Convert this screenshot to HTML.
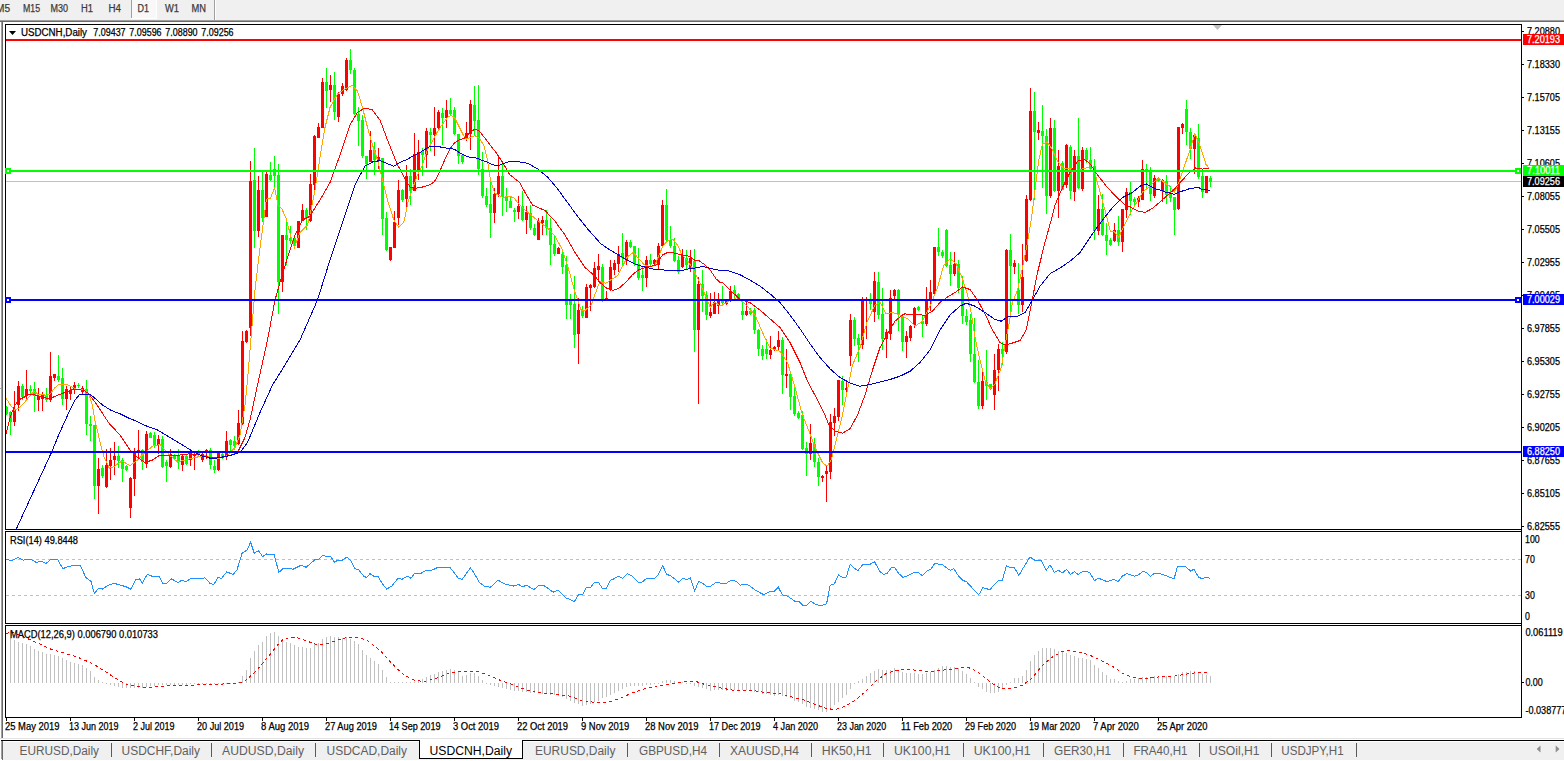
<!DOCTYPE html>
<html lang="en"><head><meta charset="utf-8"><title>USDCNH,Daily</title>
<style>html,body{margin:0;padding:0;background:#fff;overflow:hidden}body{width:1564px;height:761px;font-family:"Liberation Sans",sans-serif}svg text{font-family:"Liberation Sans",sans-serif}</style></head>
<body>
<svg width="1564" height="761" viewBox="0 0 1564 761" font-family="Liberation Sans, sans-serif" shape-rendering="crispEdges" style="display:block">
<rect x="0" y="0" width="1564" height="761" fill="#fff"/>
<rect x="0" y="0" width="1564" height="20" fill="#f0f0f0"/>
<rect x="0" y="20" width="1564" height="1" fill="#a0a0a0"/>
<rect x="0" y="21" width="1564" height="1" fill="#696969"/>
<rect x="132" y="0" width="24" height="18" fill="#f8f8f8"/>
<rect x="131" y="18" width="26" height="1" fill="#fff"/>
<rect x="156" y="0" width="1" height="18" fill="#fff"/>
<rect x="131" y="0" width="1" height="18" fill="#a0a0a0"/>
<rect x="214" y="0" width="1" height="20" fill="#a0a0a0"/>
<rect x="215" y="0" width="1" height="20" fill="#fff"/>
<text x="-4" y="12" font-size="10" fill="#3c3c3c" stroke="#3c3c3c" stroke-width="0.25" textLength="14" lengthAdjust="spacingAndGlyphs">M5</text>
<text x="23" y="12" font-size="10" fill="#3c3c3c" stroke="#3c3c3c" stroke-width="0.25" textLength="17" lengthAdjust="spacingAndGlyphs">M15</text>
<text x="50.5" y="12" font-size="10" fill="#3c3c3c" stroke="#3c3c3c" stroke-width="0.25" textLength="17.5" lengthAdjust="spacingAndGlyphs">M30</text>
<text x="81" y="12" font-size="10" fill="#3c3c3c" stroke="#3c3c3c" stroke-width="0.25" textLength="12" lengthAdjust="spacingAndGlyphs">H1</text>
<text x="108.5" y="12" font-size="10" fill="#3c3c3c" stroke="#3c3c3c" stroke-width="0.25" textLength="12.5" lengthAdjust="spacingAndGlyphs">H4</text>
<text x="137.5" y="12" font-size="10" fill="#3c3c3c" stroke="#3c3c3c" stroke-width="0.25" textLength="11.5" lengthAdjust="spacingAndGlyphs">D1</text>
<text x="165" y="12" font-size="10" fill="#3c3c3c" stroke="#3c3c3c" stroke-width="0.25" textLength="14" lengthAdjust="spacingAndGlyphs">W1</text>
<text x="191.5" y="12" font-size="10" fill="#3c3c3c" stroke="#3c3c3c" stroke-width="0.25" textLength="14.5" lengthAdjust="spacingAndGlyphs">MN</text>
<rect x="0" y="388" width="1" height="1" fill="#a0a0a0"/>
<rect x="1" y="22" width="1" height="717" fill="#a0a0a0"/>
<rect x="2" y="22" width="1" height="717" fill="#696969"/>
<rect x="5" y="24" width="1517" height="1" fill="#000"/>
<rect x="5" y="24" width="1" height="506" fill="#000"/>
<rect x="5" y="529" width="1517" height="1" fill="#000"/>
<rect x="5" y="531" width="1517" height="1" fill="#000"/>
<rect x="5" y="531" width="1" height="93" fill="#000"/>
<rect x="5" y="623" width="1517" height="1" fill="#000"/>
<rect x="5" y="625" width="1517" height="1" fill="#000"/>
<rect x="5" y="625" width="1" height="93" fill="#000"/>
<rect x="5" y="717" width="1517" height="1" fill="#000"/>
<rect x="1521" y="24" width="1" height="694" fill="#000"/>
<rect x="1522" y="31" width="2" height="1" fill="#000"/>
<text x="1527" y="35" font-size="10" fill="#000" stroke="#000" stroke-width="0.25" textLength="33" lengthAdjust="spacingAndGlyphs">7.20880</text>
<rect x="1522" y="64" width="2" height="1" fill="#000"/>
<text x="1527" y="68" font-size="10" fill="#000" stroke="#000" stroke-width="0.25" textLength="33" lengthAdjust="spacingAndGlyphs">7.18330</text>
<rect x="1522" y="97" width="2" height="1" fill="#000"/>
<text x="1527" y="101" font-size="10" fill="#000" stroke="#000" stroke-width="0.25" textLength="33" lengthAdjust="spacingAndGlyphs">7.15705</text>
<rect x="1522" y="130" width="2" height="1" fill="#000"/>
<text x="1527" y="134" font-size="10" fill="#000" stroke="#000" stroke-width="0.25" textLength="33" lengthAdjust="spacingAndGlyphs">7.13155</text>
<rect x="1522" y="163" width="2" height="1" fill="#000"/>
<text x="1527" y="167" font-size="10" fill="#000" stroke="#000" stroke-width="0.25" textLength="33" lengthAdjust="spacingAndGlyphs">7.10605</text>
<rect x="1522" y="196" width="2" height="1" fill="#000"/>
<text x="1527" y="200" font-size="10" fill="#000" stroke="#000" stroke-width="0.25" textLength="33" lengthAdjust="spacingAndGlyphs">7.08055</text>
<rect x="1522" y="229" width="2" height="1" fill="#000"/>
<text x="1527" y="233" font-size="10" fill="#000" stroke="#000" stroke-width="0.25" textLength="33" lengthAdjust="spacingAndGlyphs">7.05505</text>
<rect x="1522" y="262" width="2" height="1" fill="#000"/>
<text x="1527" y="266" font-size="10" fill="#000" stroke="#000" stroke-width="0.25" textLength="33" lengthAdjust="spacingAndGlyphs">7.02955</text>
<rect x="1522" y="295" width="2" height="1" fill="#000"/>
<text x="1527" y="299" font-size="10" fill="#000" stroke="#000" stroke-width="0.25" textLength="33" lengthAdjust="spacingAndGlyphs">7.00405</text>
<rect x="1522" y="328" width="2" height="1" fill="#000"/>
<text x="1527" y="332" font-size="10" fill="#000" stroke="#000" stroke-width="0.25" textLength="33" lengthAdjust="spacingAndGlyphs">6.97855</text>
<rect x="1522" y="361" width="2" height="1" fill="#000"/>
<text x="1527" y="365" font-size="10" fill="#000" stroke="#000" stroke-width="0.25" textLength="33" lengthAdjust="spacingAndGlyphs">6.95305</text>
<rect x="1522" y="394" width="2" height="1" fill="#000"/>
<text x="1527" y="398" font-size="10" fill="#000" stroke="#000" stroke-width="0.25" textLength="33" lengthAdjust="spacingAndGlyphs">6.92755</text>
<rect x="1522" y="427" width="2" height="1" fill="#000"/>
<text x="1527" y="431" font-size="10" fill="#000" stroke="#000" stroke-width="0.25" textLength="33" lengthAdjust="spacingAndGlyphs">6.90205</text>
<rect x="1522" y="460" width="2" height="1" fill="#000"/>
<text x="1527" y="464" font-size="10" fill="#000" stroke="#000" stroke-width="0.25" textLength="33" lengthAdjust="spacingAndGlyphs">6.87655</text>
<rect x="1522" y="493" width="2" height="1" fill="#000"/>
<text x="1527" y="497" font-size="10" fill="#000" stroke="#000" stroke-width="0.25" textLength="33" lengthAdjust="spacingAndGlyphs">6.85105</text>
<rect x="1522" y="526" width="2" height="1" fill="#000"/>
<text x="1527" y="530" font-size="10" fill="#000" stroke="#000" stroke-width="0.25" textLength="33" lengthAdjust="spacingAndGlyphs">6.82555</text>
<rect x="6" y="181" width="1515" height="1" fill="#c0c0c0"/>
<path d="M14 391h1v35h-1zM13 410h3v12h-3zM18 381h1v30h-1zM17 386h3v19h-3zM26 370h1v29h-1zM25 389h3v7h-3zM38 388h1v23h-1zM37 396h3v4h-3zM42 392h1v19h-1zM41 394h3v5h-3zM50 352h1v50h-1zM49 376h3v24h-3zM54 374h1v7h-1zM53 374h3v4h-3zM66 386h1v24h-1zM65 389h3v10h-3zM70 386h1v14h-1zM69 390h3v4h-3zM74 382h1v12h-1zM73 385h3v5h-3zM82 386h1v8h-1zM81 388h3v4h-3zM98 458h1v56h-1zM97 469h3v17h-3zM106 449h1v39h-1zM105 465h3v22h-3zM110 448h1v32h-1zM109 460h3v6h-3zM114 442h1v33h-1zM113 456h3v4h-3zM130 477h1v41h-1zM129 478h3v30h-3zM134 448h1v48h-1zM133 451h3v28h-3zM138 430h1v28h-1zM137 450h3v2h-3zM146 431h1v37h-1zM145 434h3v30h-3zM158 435h1v19h-1zM157 439h3v6h-3zM170 449h1v19h-1zM169 454h3v13h-3zM182 454h1v17h-1zM181 456h3v9h-3zM190 449h1v17h-1zM189 451h3v9h-3zM194 452h1v18h-1zM193 454h3v2h-3zM202 452h1v10h-1zM201 454h3v6h-3zM206 449h1v10h-1zM205 450h3v2h-3zM218 452h1v19h-1zM217 453h3v17h-3zM226 431h1v29h-1zM225 441h3v15h-3zM238 410h1v35h-1zM237 423h3v21h-3zM242 331h1v94h-1zM241 341h3v83h-3zM246 330h1v13h-1zM245 331h3v11h-3zM250 161h1v175h-1zM249 181h3v147h-3zM258 176h1v61h-1zM257 190h3v41h-3zM266 172h1v45h-1zM265 174h3v43h-3zM282 235h1v57h-1zM281 235h3v47h-3zM298 221h1v27h-1zM297 221h3v27h-3zM302 204h1v17h-1zM301 210h3v11h-3zM310 174h1v48h-1zM309 184h3v37h-3zM314 135h1v55h-1zM313 136h3v49h-3zM318 123h1v15h-1zM317 127h3v11h-3zM322 78h1v50h-1zM321 82h3v46h-3zM330 75h1v27h-1zM329 85h3v5h-3zM338 92h1v30h-1zM337 94h3v23h-3zM342 83h1v13h-1zM341 86h3v8h-3zM346 58h1v33h-1zM345 60h3v30h-3zM370 131h1v31h-1zM369 150h3v12h-3zM378 148h1v21h-1zM377 157h3v4h-3zM390 247h1v14h-1zM389 247h3v13h-3zM394 211h1v37h-1zM393 222h3v26h-3zM398 180h1v45h-1zM397 190h3v28h-3zM406 165h1v45h-1zM405 176h3v23h-3zM414 133h1v58h-1zM413 154h3v37h-3zM418 140h1v40h-1zM417 152h3v18h-3zM426 128h1v40h-1zM425 131h3v24h-3zM434 107h1v49h-1zM433 128h3v7h-3zM438 110h1v19h-1zM437 112h3v16h-3zM446 100h1v28h-1zM445 110h3v8h-3zM466 122h1v19h-1zM465 133h3v5h-3zM470 100h1v50h-1zM469 104h3v30h-3zM494 188h1v35h-1zM493 194h3v19h-3zM498 156h1v41h-1zM497 176h3v18h-3zM518 196h1v23h-1zM517 206h3v6h-3zM526 206h1v28h-1zM525 212h3v8h-3zM538 218h1v22h-1zM537 221h3v19h-3zM542 216h1v19h-1zM541 220h3v3h-3zM558 247h1v7h-1zM557 248h3v6h-3zM578 298h1v66h-1zM577 310h3v24h-3zM586 284h1v34h-1zM585 287h3v31h-3zM590 284h1v27h-1zM589 285h3v3h-3zM594 262h1v26h-1zM593 268h3v19h-3zM598 254h1v28h-1zM597 266h3v4h-3zM606 291h1v9h-1zM605 298h3v2h-3zM610 260h1v31h-1zM609 267h3v23h-3zM614 260h1v15h-1zM613 263h3v7h-3zM618 246h1v26h-1zM617 254h3v10h-3zM626 240h1v25h-1zM625 242h3v18h-3zM646 256h1v31h-1zM645 260h3v18h-3zM654 259h1v7h-1zM653 260h3v4h-3zM658 243h1v26h-1zM657 246h3v19h-3zM662 200h1v47h-1zM661 205h3v41h-3zM682 249h1v19h-1zM681 255h3v12h-3zM690 250h1v22h-1zM689 258h3v10h-3zM698 277h1v127h-1zM697 284h3v46h-3zM710 293h1v25h-1zM709 312h3v4h-3zM714 292h1v22h-1zM713 302h3v12h-3zM718 293h1v21h-1zM717 299h3v7h-3zM726 299h1v6h-1zM725 300h3v4h-3zM730 286h1v16h-1zM729 291h3v10h-3zM746 302h1v14h-1zM745 311h3v4h-3zM770 336h1v23h-1zM769 350h3v5h-3zM774 346h1v5h-1zM773 347h3v3h-3zM778 331h1v19h-1zM777 340h3v7h-3zM786 349h1v39h-1zM785 374h3v2h-3zM810 424h1v36h-1zM809 443h3v11h-3zM822 475h1v7h-1zM821 476h3v2h-3zM826 465h1v37h-1zM825 471h3v3h-3zM830 414h1v65h-1zM829 422h3v50h-3zM834 408h1v28h-1zM833 416h3v7h-3zM838 380h1v41h-1zM837 380h3v37h-3zM846 382h1v10h-1zM845 388h3v2h-3zM850 314h1v52h-1zM849 320h3v36h-3zM862 297h1v52h-1zM861 300h3v45h-3zM866 297h1v42h-1zM865 299h3v2h-3zM874 272h1v50h-1zM873 281h3v31h-3zM886 329h1v29h-1zM885 332h3v7h-3zM890 290h1v50h-1zM889 298h3v36h-3zM894 289h1v11h-1zM893 290h3v6h-3zM906 331h1v27h-1zM905 336h3v6h-3zM910 325h1v16h-1zM909 326h3v12h-3zM914 307h1v21h-1zM913 308h3v17h-3zM926 287h1v39h-1zM925 300h3v24h-3zM930 280h1v31h-1zM929 292h3v8h-3zM934 247h1v47h-1zM933 247h3v47h-3zM954 252h1v24h-1zM953 264h3v10h-3zM982 372h1v37h-1zM981 381h3v25h-3zM994 354h1v56h-1zM993 370h3v25h-3zM998 344h1v47h-1zM997 349h3v21h-3zM1006 249h1v105h-1zM1005 250h3v102h-3zM1014 260h1v14h-1zM1013 263h3v4h-3zM1022 244h1v68h-1zM1021 277h3v28h-3zM1026 195h1v67h-1zM1025 199h3v62h-3zM1030 88h1v113h-1zM1029 111h3v89h-3zM1038 122h1v18h-1zM1037 130h3v3h-3zM1050 118h1v80h-1zM1049 128h3v68h-3zM1058 150h1v68h-1zM1057 166h3v25h-3zM1066 144h1v44h-1zM1065 145h3v40h-3zM1074 150h1v51h-1zM1073 156h3v36h-3zM1082 147h1v44h-1zM1081 150h3v39h-3zM1098 195h1v40h-1zM1097 209h3v22h-3zM1114 223h1v19h-1zM1113 230h3v11h-3zM1122 209h1v43h-1zM1121 209h3v33h-3zM1126 188h1v30h-1zM1125 192h3v18h-3zM1138 196h1v11h-1zM1137 198h3v4h-3zM1142 160h1v40h-1zM1141 169h3v31h-3zM1154 175h1v23h-1zM1153 178h3v18h-3zM1162 179h1v23h-1zM1161 180h3v11h-3zM1178 127h1v83h-1zM1177 127h3v82h-3zM1182 123h1v11h-1zM1181 124h3v4h-3zM1194 134h1v40h-1zM1193 135h3v14h-3zM1206 176h1v17h-1zM1205 176h3v17h-3z" fill="#ff0000"/>
<path d="M6 406h1v9h-1zM6 407h2v7h-2zM10 411h1v24h-1zM9 412h3v10h-3zM22 384h1v16h-1zM21 386h3v11h-3zM30 385h1v9h-1zM29 389h3v2h-3zM34 382h1v30h-1zM33 389h3v7h-3zM46 388h1v14h-1zM45 396h3v4h-3zM58 355h1v27h-1zM57 376h3v4h-3zM62 368h1v37h-1zM61 378h3v21h-3zM78 383h1v5h-1zM77 385h3v1h-3zM86 380h1v55h-1zM85 389h3v35h-3zM90 416h1v25h-1zM89 424h3v2h-3zM94 425h1v74h-1zM93 425h3v61h-3zM102 465h1v13h-1zM101 468h3v8h-3zM118 446h1v22h-1zM117 456h3v5h-3zM122 458h1v24h-1zM121 460h3v9h-3zM126 465h1v6h-1zM125 466h3v4h-3zM142 449h1v21h-1zM141 450h3v12h-3zM150 432h1v6h-1zM149 433h3v5h-3zM154 432h1v16h-1zM153 435h3v11h-3zM162 436h1v32h-1zM161 439h3v28h-3zM166 460h1v22h-1zM165 462h3v4h-3zM174 454h1v6h-1zM173 455h3v4h-3zM178 449h1v20h-1zM177 456h3v6h-3zM186 454h1v11h-1zM185 456h3v8h-3zM198 450h1v6h-1zM197 452h3v3h-3zM210 448h1v21h-1zM209 450h3v15h-3zM214 460h1v13h-1zM213 466h3v4h-3zM222 452h1v7h-1zM221 454h3v4h-3zM230 439h1v12h-1zM229 440h3v5h-3zM234 436h1v14h-1zM233 441h3v5h-3zM254 148h1v100h-1zM253 180h3v51h-3zM262 172h1v50h-1zM261 190h3v28h-3zM270 162h1v19h-1zM269 175h3v5h-3zM274 156h1v32h-1zM273 169h3v7h-3zM278 164h1v150h-1zM277 175h3v107h-3zM286 218h1v47h-1zM285 235h3v5h-3zM290 226h1v18h-1zM289 238h3v3h-3zM294 238h1v10h-1zM293 238h3v6h-3zM306 208h1v22h-1zM305 210h3v8h-3zM326 68h1v40h-1zM325 82h3v9h-3zM334 72h1v48h-1zM333 85h3v27h-3zM350 49h1v25h-1zM349 60h3v10h-3zM354 68h1v47h-1zM353 70h3v44h-3zM358 107h1v39h-1zM357 114h3v7h-3zM362 115h1v43h-1zM361 120h3v36h-3zM366 156h1v23h-1zM365 156h3v8h-3zM374 142h1v33h-1zM373 150h3v10h-3zM382 158h1v77h-1zM381 158h3v61h-3zM386 212h1v39h-1zM385 218h3v32h-3zM402 189h1v13h-1zM401 190h3v10h-3zM410 169h1v36h-1zM409 176h3v15h-3zM422 148h1v28h-1zM421 151h3v4h-3zM430 128h1v23h-1zM429 132h3v3h-3zM442 108h1v37h-1zM441 113h3v5h-3zM450 98h1v17h-1zM449 110h3v4h-3zM454 107h1v28h-1zM453 110h3v24h-3zM458 134h1v30h-1zM457 134h3v22h-3zM462 154h1v10h-1zM461 155h3v7h-3zM474 86h1v49h-1zM473 105h3v16h-3zM478 85h1v90h-1zM477 120h3v49h-3zM482 152h1v46h-1zM481 169h3v27h-3zM486 188h1v19h-1zM485 196h3v9h-3zM490 181h1v57h-1zM489 204h3v9h-3zM502 161h1v55h-1zM501 176h3v21h-3zM506 188h1v24h-1zM505 197h3v4h-3zM510 196h1v12h-1zM509 201h3v7h-3zM514 208h1v14h-1zM513 210h3v2h-3zM522 191h1v30h-1zM521 206h3v14h-3zM530 205h1v25h-1zM529 213h3v15h-3zM534 224h1v12h-1zM533 228h3v7h-3zM546 210h1v25h-1zM545 220h3v8h-3zM550 218h1v47h-1zM549 228h3v17h-3zM554 235h1v21h-1zM553 244h3v10h-3zM562 250h1v24h-1zM561 254h3v13h-3zM566 256h1v63h-1zM565 265h3v40h-3zM570 294h1v25h-1zM569 300h3v5h-3zM574 276h1v72h-1zM573 304h3v31h-3zM582 306h1v12h-1zM581 310h3v6h-3zM602 264h1v38h-1zM601 267h3v33h-3zM622 233h1v33h-1zM621 253h3v5h-3zM630 240h1v8h-1zM629 242h3v5h-3zM634 246h1v20h-1zM633 246h3v18h-3zM638 248h1v32h-1zM637 264h3v14h-3zM642 266h1v25h-1zM641 275h3v3h-3zM650 254h1v12h-1zM649 260h3v4h-3zM666 189h1v53h-1zM665 205h3v35h-3zM670 226h1v22h-1zM669 240h3v6h-3zM674 238h1v24h-1zM673 246h3v15h-3zM678 256h1v18h-1zM677 260h3v12h-3zM686 250h1v19h-1zM685 258h3v7h-3zM694 249h1v103h-1zM693 261h3v69h-3zM702 270h1v42h-1zM701 284h3v12h-3zM706 291h1v29h-1zM705 295h3v20h-3zM722 286h1v20h-1zM721 300h3v3h-3zM734 285h1v14h-1zM733 290h3v4h-3zM738 293h1v8h-1zM737 294h3v6h-3zM742 301h1v19h-1zM741 311h3v4h-3zM750 308h1v7h-1zM749 311h3v3h-3zM754 308h1v26h-1zM753 310h3v20h-3zM758 329h1v27h-1zM757 330h3v19h-3zM762 345h1v15h-1zM761 349h3v7h-3zM766 339h1v20h-1zM765 349h3v5h-3zM782 337h1v57h-1zM781 340h3v35h-3zM790 373h1v37h-1zM789 374h3v23h-3zM794 388h1v28h-1zM793 396h3v18h-3zM798 411h1v8h-1zM797 413h3v5h-3zM802 411h1v39h-1zM801 415h3v34h-3zM806 442h1v34h-1zM805 448h3v6h-3zM814 438h1v29h-1zM813 444h3v18h-3zM818 458h1v28h-1zM817 462h3v15h-3zM842 376h1v29h-1zM841 381h3v9h-3zM854 317h1v29h-1zM853 320h3v19h-3zM858 334h1v28h-1zM857 338h3v7h-3zM870 293h1v17h-1zM869 300h3v4h-3zM878 272h1v47h-1zM877 282h3v33h-3zM882 288h1v62h-1zM881 314h3v25h-3zM898 289h1v42h-1zM897 290h3v25h-3zM902 314h1v37h-1zM901 316h3v26h-3zM918 306h1v5h-1zM917 307h3v3h-3zM922 316h1v21h-1zM921 321h3v3h-3zM938 228h1v28h-1zM937 247h3v5h-3zM942 250h1v8h-1zM941 252h3v4h-3zM946 229h1v38h-1zM945 230h3v36h-3zM950 252h1v34h-1zM949 265h3v9h-3zM958 260h1v33h-1zM957 264h3v24h-3zM962 276h1v48h-1zM961 288h3v28h-3zM966 309h1v16h-1zM965 316h3v6h-3zM970 314h1v48h-1zM969 320h3v34h-3zM974 318h1v65h-1zM973 354h3v28h-3zM978 360h1v49h-1zM977 382h3v24h-3zM986 350h1v50h-1zM985 382h3v4h-3zM990 384h1v6h-1zM989 384h3v5h-3zM1002 342h1v23h-1zM1001 349h3v5h-3zM1010 234h1v82h-1zM1009 250h3v16h-3zM1018 263h1v51h-1zM1017 290h3v15h-3zM1034 92h1v108h-1zM1033 111h3v21h-3zM1042 105h1v83h-1zM1041 131h3v5h-3zM1046 129h1v85h-1zM1045 136h3v60h-3zM1054 120h1v72h-1zM1053 128h3v63h-3zM1062 161h1v29h-1zM1061 163h3v27h-3zM1070 145h1v54h-1zM1069 147h3v44h-3zM1078 118h1v71h-1zM1077 156h3v32h-3zM1086 148h1v15h-1zM1085 150h3v10h-3zM1090 147h1v23h-1zM1089 160h3v9h-3zM1094 159h1v81h-1zM1093 166h3v65h-3zM1102 194h1v42h-1zM1101 209h3v26h-3zM1106 223h1v32h-1zM1105 235h3v6h-3zM1110 238h1v8h-1zM1109 240h3v5h-3zM1118 216h1v30h-1zM1117 230h3v12h-3zM1130 182h1v33h-1zM1129 192h3v9h-3zM1134 197h1v8h-1zM1133 199h3v3h-3zM1146 164h1v26h-1zM1145 169h3v3h-3zM1150 167h1v34h-1zM1149 170h3v24h-3zM1158 177h1v5h-1zM1157 178h3v3h-3zM1166 175h1v29h-1zM1165 181h3v14h-3zM1170 186h1v16h-1zM1169 193h3v5h-3zM1174 197h1v38h-1zM1173 197h3v13h-3zM1186 100h1v45h-1zM1185 109h3v23h-3zM1190 128h1v31h-1zM1189 132h3v17h-3zM1198 124h1v55h-1zM1197 138h3v39h-3zM1202 172h1v26h-1zM1201 176h3v16h-3zM1210 176h1v11h-1zM1209 178h3v4h-3z" fill="#00ff00"/>
<polyline points="6.0,398.1 10.3,405.0 14.5,410.1 18.8,408.4 23.1,404.1 27.4,399.0 30.8,394.7 34.2,391.3 38.5,394.7 42.7,394.4 46.2,395.6 50.4,393.8 54.7,387.9 59.0,384.4 62.4,384.8 67.5,384.8 71.8,387.0 76.9,389.6 81.2,389.6 85.5,390.4 88.9,394.7 92.3,405.0 94.9,420.3 97.4,430.6 100.9,446.0 104.3,457.9 109.4,468.2 112.8,467.4 120.0,462.2 122.2,461.2 130.1,465.6 137.5,460.0 145.0,452.5 152.5,446.2 160.0,444.5 165.0,450.0 170.0,455.5 177.5,462.0 185.0,460.0 195.0,457.5 205.0,455.5 212.5,458.8 220.0,458.0 227.5,455.5 235.0,447.5 240.0,435.0 245.0,405.0 247.5,380.0 250.4,345.0 255.0,290.0 259.7,250.0 264.3,215.7 266.3,199.3 270.5,198.0 274.6,188.1 278.1,205.2 282.0,209.1 286.0,218.3 290.6,235.4 294.5,247.2 300.0,232.5 307.5,225.0 310.0,215.0 315.0,190.0 320.0,157.5 325.0,127.5 330.0,107.5 337.5,93.8 345.0,88.8 352.5,85.5 357.5,91.2 362.5,107.5 367.5,127.5 372.5,145.0 377.5,160.0 382.5,180.0 387.5,200.0 393.8,220.0 398.8,227.5 403.8,222.5 408.5,200.1 412.8,187.9 417.1,176.0 422.2,165.7 427.4,150.3 432.5,140.9 437.6,131.5 442.7,123.8 447.9,117.0 451.3,115.3 454.7,117.9 459.0,126.4 463.2,135.0 466.7,139.2 471.8,136.7 475.2,135.8 479.5,138.4 483.8,145.2 487.2,158.9 490.6,181.1 494.9,193.1 502.6,197.4 509.4,196.2 514.5,198.2 517.5,202.5 525.0,210.0 532.5,216.2 540.0,222.5 547.5,228.0 555.0,236.2 562.5,250.0 568.8,270.0 575.0,292.5 581.2,310.0 585.0,310.5 591.2,305.0 597.5,287.5 600.0,281.5 606.0,283.2 612.0,279.0 617.9,275.6 622.2,267.0 627.4,256.8 633.3,252.5 638.5,258.5 644.4,264.8 649.6,266.5 654.7,265.8 659.0,255.0 663.2,245.6 668.4,240.2 673.5,239.7 677.8,245.6 682.1,255.0 687.2,260.2 692.3,267.9 696.6,276.4 700.9,285.0 706.0,296.9 710.3,307.2 714.5,302.1 720.0,305.5 722.5,305.0 730.0,300.6 737.5,297.5 745.0,303.8 755.0,315.0 762.5,332.5 770.0,348.0 780.0,351.2 787.5,362.5 795.0,387.5 802.5,415.0 810.0,433.8 816.2,450.0 822.5,462.5 827.0,466.2 831.2,460.0 837.5,435.0 842.5,415.0 847.5,390.0 852.5,365.0 860.0,347.5 866.9,322.5 875.0,305.0 880.0,302.5 886.2,313.8 890.0,313.0 892.5,312.5 900.0,315.0 907.5,318.8 915.0,326.2 922.5,321.2 930.0,306.2 937.5,287.5 943.8,265.0 950.0,258.8 956.2,263.8 962.5,278.8 967.5,295.0 971.2,312.5 975.0,337.5 980.0,360.0 985.0,380.0 990.0,388.8 995.0,383.8 1001.2,367.5 1005.0,345.0 1008.8,325.0 1012.5,302.5 1017.5,290.0 1022.5,267.5 1027.5,242.5 1031.2,220.0 1035.0,190.0 1038.8,160.0 1042.5,143.8 1047.5,142.0 1052.5,150.0 1057.5,161.2 1063.8,168.8 1070.0,168.8 1076.2,171.2 1082.5,168.8 1088.8,167.5 1095.0,173.8 1100.0,191.8 1105.1,210.6 1110.3,231.1 1114.5,232.0 1118.8,237.1 1123.9,226.0 1130.8,212.3 1136.8,202.1 1142.7,191.8 1149.6,186.7 1154.7,181.5 1159.0,178.1 1164.1,182.4 1169.2,185.8 1174.4,191.8 1178.6,183.2 1183.8,167.9 1189.7,150.8 1194.9,133.7 1200.0,145.6 1206.0,164.4 1209.4,168.4" fill="none" stroke="#ffa500" stroke-width="1"/>
<polyline points="6.0,434.0 10.3,416.9 14.5,405.8 18.8,399.8 23.9,397.3 28.2,394.7 34.2,394.7 38.5,396.4 43.6,397.3 49.6,399.0 54.7,396.4 59.8,394.4 65.8,392.1 71.8,389.9 78.6,389.6 83.8,390.4 88.9,393.8 95.7,403.2 102.6,413.5 109.4,423.8 120.0,434.9 130.1,450.0 137.5,457.5 145.0,462.5 152.5,460.0 160.0,455.0 170.0,455.5 180.0,455.0 190.0,453.8 200.0,455.0 210.0,457.5 220.0,458.0 230.0,455.5 237.5,452.5 245.0,437.5 250.0,420.0 257.5,385.0 267.5,340.0 275.0,300.0 280.0,282.5 287.5,257.5 295.0,235.0 302.5,220.0 310.0,216.2 317.5,203.8 320.0,200.0 330.0,182.5 340.0,155.0 350.0,125.0 357.5,112.5 365.0,108.0 372.5,110.0 380.0,120.0 387.5,140.0 397.5,165.0 400.0,169.1 405.1,179.4 410.3,187.1 415.4,188.3 422.2,187.1 429.1,184.9 434.2,182.0 439.3,172.6 444.4,160.6 449.6,149.5 454.7,142.6 459.8,139.7 465.8,137.5 470.1,132.4 474.4,129.5 478.6,130.2 483.8,136.7 488.9,143.5 495.7,152.1 502.6,162.3 509.4,174.3 520.0,182.8 525.0,192.5 532.5,205.0 545.0,210.5 555.0,221.2 565.0,235.0 575.0,252.5 585.0,267.5 595.0,276.2 600.0,282.4 606.8,288.4 612.8,290.4 618.8,288.4 625.6,282.4 632.5,274.7 638.5,269.9 644.4,267.9 651.3,266.2 656.4,264.8 662.4,255.0 668.4,252.1 675.2,253.3 682.1,255.0 688.9,256.2 694.9,260.2 699.1,260.7 704.3,264.4 711.1,271.3 716.2,279.0 720.0,282.4 722.5,282.5 730.0,290.0 740.1,299.4 750.0,302.5 760.0,310.0 770.0,318.8 780.0,327.5 790.0,342.5 800.0,362.5 807.5,381.2 817.5,400.0 825.0,415.0 828.8,425.0 835.0,431.2 842.5,433.2 850.0,428.8 857.5,415.0 865.0,395.0 872.5,370.0 880.0,347.5 887.5,333.8 895.0,321.2 902.5,315.0 905.0,313.8 910.2,315.0 915.0,313.8 925.0,315.5 932.5,311.2 940.0,302.5 947.5,297.0 955.0,292.5 962.5,287.0 970.0,289.5 977.5,300.0 985.0,313.8 992.5,330.0 1000.0,342.5 1005.0,345.0 1012.5,343.0 1020.0,340.5 1026.2,330.0 1031.2,305.0 1037.5,272.5 1045.0,242.5 1051.2,220.0 1055.0,205.0 1062.5,187.5 1070.0,172.5 1077.5,161.2 1083.8,158.8 1090.0,163.8 1097.5,175.0 1100.0,178.1 1106.8,186.7 1117.1,197.8 1123.9,203.8 1130.8,207.2 1139.3,211.5 1145.3,212.3 1153.0,208.0 1159.8,202.1 1167.5,195.2 1173.5,190.1 1180.3,182.4 1188.9,173.0 1195.7,167.9 1202.6,169.1 1209.4,168.4" fill="none" stroke="#ff0000" stroke-width="1"/>
<polyline points="16.2,529.2 51.3,452.8 59.8,432.3 68.4,413.5 75.2,399.8 79.5,394.7 90.6,394.7 95.7,399.0 102.6,405.0 111.1,410.4 120.0,413.8 130.2,418.8 132.5,419.5 145.0,425.5 157.5,430.0 170.0,437.5 182.5,445.0 192.5,451.2 202.5,456.2 212.5,458.8 220.0,457.5 230.0,455.5 240.0,452.5 247.5,442.5 260.0,412.5 272.5,385.0 285.0,365.0 300.0,340.0 317.5,300.0 330.0,260.0 342.5,222.5 355.0,185.0 357.5,180.0 365.0,166.2 372.5,162.0 380.0,160.5 387.5,163.8 393.8,166.2 400.0,162.3 406.8,159.7 413.7,155.5 420.5,152.1 425.6,149.0 429.9,146.6 439.3,146.6 442.7,147.8 449.6,148.3 454.7,149.5 459.8,152.9 465.0,155.5 470.1,157.5 475.2,157.5 480.3,159.7 485.5,161.5 490.6,163.7 495.7,165.7 499.1,165.4 504.3,163.2 509.4,161.5 520.0,162.0 527.5,163.2 537.5,168.8 547.5,177.0 557.5,188.8 567.5,202.5 577.5,216.2 587.5,228.8 597.5,240.0 600.0,243.1 608.5,249.1 617.1,254.2 625.6,259.3 634.2,263.6 642.7,266.5 651.3,268.7 659.8,269.9 668.4,270.1 676.9,270.4 682.1,270.4 688.9,268.7 695.7,267.9 702.6,266.5 709.4,268.2 720.0,270.4 727.5,270.5 740.1,274.8 750.0,280.0 760.0,286.2 770.0,293.8 780.0,302.5 790.0,315.0 800.0,328.8 810.0,343.8 820.0,357.5 830.0,368.8 840.0,377.5 850.0,383.0 860.0,386.2 870.0,384.5 880.0,382.0 890.0,379.5 900.0,376.2 910.2,371.2 920.0,362.5 930.0,350.0 940.0,330.0 950.0,315.0 960.0,306.2 966.2,303.2 975.0,306.2 985.0,312.5 995.0,319.5 1001.2,321.2 1007.5,317.0 1017.5,316.2 1025.0,312.5 1032.5,300.0 1040.0,286.2 1050.0,273.8 1060.0,268.0 1070.0,261.2 1080.2,252.5 1082.5,248.8 1092.5,233.8 1102.5,220.0 1112.5,207.5 1122.5,197.5 1132.5,192.5 1140.0,186.2 1146.2,183.8 1150.0,186.0 1155.5,188.9 1162.5,190.6 1165.0,192.0 1169.0,192.8 1174.0,194.4 1179.0,192.0 1184.0,190.6 1189.0,188.8 1194.0,188.0 1198.0,187.0 1202.5,189.8 1207.5,189.8 1210.0,190.6" fill="none" stroke="#0000cd" stroke-width="1"/>
<rect x="6" y="39" width="1515" height="2" fill="#ff0000"/>
<rect x="6" y="451" width="1515" height="2" fill="#0000ff"/>
<rect x="6" y="170" width="1515" height="2" fill="#00ff00"/>
<rect x="6" y="299" width="1515" height="2" fill="#0000ff"/>
<rect x="5" y="168" width="6" height="6" fill="#00ff00"/>
<rect x="7" y="170" width="2" height="2" fill="#fff"/>
<rect x="1515" y="168" width="6" height="6" fill="#00ff00"/>
<rect x="1517" y="170" width="2" height="2" fill="#fff"/>
<rect x="5" y="297" width="6" height="6" fill="#0000ff"/>
<rect x="7" y="299" width="2" height="2" fill="#fff"/>
<rect x="1515" y="297" width="6" height="6" fill="#0000ff"/>
<rect x="1517" y="299" width="2" height="2" fill="#fff"/>
<rect x="1523" y="34" width="41" height="11" fill="#ff0000"/>
<text x="1527" y="43" font-size="10" fill="#fff" stroke="#fff" stroke-width="0.25" textLength="33" lengthAdjust="spacingAndGlyphs">7.20193</text>
<rect x="1523" y="165" width="41" height="11" fill="#00ff00"/>
<text x="1527" y="174" font-size="10" fill="#fff" stroke="#fff" stroke-width="0.25" textLength="33" lengthAdjust="spacingAndGlyphs">7.10011</text>
<rect x="1523" y="176" width="41" height="11" fill="#000"/>
<text x="1527" y="185" font-size="10" fill="#fff" stroke="#fff" stroke-width="0.25" textLength="33" lengthAdjust="spacingAndGlyphs">7.09256</text>
<rect x="1523" y="294" width="41" height="11" fill="#0000ff"/>
<text x="1527" y="303" font-size="10" fill="#fff" stroke="#fff" stroke-width="0.25" textLength="33" lengthAdjust="spacingAndGlyphs">7.00029</text>
<rect x="1523" y="446" width="41" height="11" fill="#0000ff"/>
<text x="1527" y="455" font-size="10" fill="#fff" stroke="#fff" stroke-width="0.25" textLength="33" lengthAdjust="spacingAndGlyphs">6.88250</text>
<path d="M9 31h7l-3.5 4z" fill="#000" shape-rendering="auto"/>
<text x="21" y="36" font-size="10" fill="#000" stroke="#000" stroke-width="0.25" textLength="66" lengthAdjust="spacingAndGlyphs">USDCNH,Daily</text>
<text x="93.3" y="36" font-size="10" fill="#000" stroke="#000" stroke-width="0.25" textLength="32.3" lengthAdjust="spacingAndGlyphs">7.09437</text>
<text x="129.3" y="36" font-size="10" fill="#000" stroke="#000" stroke-width="0.25" textLength="32.3" lengthAdjust="spacingAndGlyphs">7.09596</text>
<text x="165.3" y="36" font-size="10" fill="#000" stroke="#000" stroke-width="0.25" textLength="32.3" lengthAdjust="spacingAndGlyphs">7.08890</text>
<text x="201.3" y="36" font-size="10" fill="#000" stroke="#000" stroke-width="0.25" textLength="32.3" lengthAdjust="spacingAndGlyphs">7.09256</text>
<path d="M1213 25h9l-4.5 5z" fill="#c0c0c0" shape-rendering="auto"/>
<line x1="6" y1="559.5" x2="1521" y2="559.5" stroke="#c0c0c0" stroke-width="1" stroke-dasharray="3 3"/>
<line x1="6" y1="595.5" x2="1521" y2="595.5" stroke="#c0c0c0" stroke-width="1" stroke-dasharray="3 3"/>
<polyline points="6.4,559.1 11.5,560.9 18.4,557.5 23.1,560.1 30.7,559.1 35.9,562.2 42.3,561.6 46.1,563.4 51.2,559.1 57.6,559.6 62.8,568.6 67.9,566.8 74.3,565.2 80.7,566.0 85.8,577.5 91.0,581.4 94.3,593.4 98.6,588.5 102.5,589.1 107.6,585.7 114.0,583.2 120.4,585.2 125.5,586.5 130.7,589.1 135.8,579.6 139.6,578.8 142.2,583.4 147.3,574.2 153.7,577.0 158.9,576.2 162.7,583.4 166.5,583.4 171.2,578.8 178.1,582.6 181.9,580.1 185.8,582.1 190.9,578.3 205.0,578.0 210.1,583.4 213.9,584.4 217.8,577.5 221.6,578.3 226.7,571.9 233.2,574.4 237.0,569.8 242.1,553.2 247.2,549.9 250.6,542.2 254.2,553.2 258.3,550.6 262.6,556.5 266.5,554.0 274.1,554.5 278.8,572.4 283.1,568.6 293.4,569.1 301.1,565.2 306.2,567.3 315.1,559.6 319.0,559.1 323.3,555.0 326.7,557.0 330.5,556.3 334.4,562.2 338.2,560.1 342.0,560.4 347.2,557.0 351.0,560.9 354.9,568.6 358.7,569.8 363.8,576.2 366.4,577.5 370.0,573.7 373.8,576.2 378.2,576.8 382.8,584.4 386.7,589.1 391.8,586.0 398.2,578.0 402.0,579.3 407.2,576.2 411.0,578.3 414.8,573.2 421.2,573.2 426.4,570.3 430.2,571.1 437.9,567.3 443.0,568.0 449.9,567.3 458.4,578.3 462.2,579.3 470.4,568.0 473.8,572.4 478.9,581.9 484.0,586.0 490.4,587.3 498.1,580.1 504.5,583.9 513.5,586.0 518.6,584.4 522.4,587.0 526.3,585.2 534.0,589.6 539.1,585.2 544.2,585.7 553.2,592.1 558.3,590.3 566.0,598.0 569.8,599.3 574.2,601.9 578.8,594.2 582.7,594.9 586.5,587.3 590.9,587.0 594.7,582.1 598.5,582.6 602.4,588.3 606.2,588.3 610.1,580.6 613.9,578.8 618.5,576.2 622.4,578.3 627.5,573.7 631.3,575.5 638.5,582.6 641.6,582.6 646.7,578.3 654.4,578.3 658.2,575.0 662.6,565.5 666.7,574.2 671.1,576.2 678.7,582.1 682.6,578.3 686.4,579.6 690.3,578.0 694.6,591.1 698.7,581.4 701.8,582.6 706.9,586.5 710.8,586.0 715.9,582.6 721.5,583.2 726.1,583.4 731.3,580.1 736.4,581.4 740.0,585.2 743.8,584.4 749.0,585.2 755.4,590.3 763.8,594.7 770.7,591.1 774.6,591.1 778.4,587.3 782.3,594.9 787.4,596.0 795.1,601.4 798.4,601.1 802.8,605.2 806.6,605.2 811.0,601.1 815.6,604.4 820.7,605.7 826.6,603.7 830.2,585.2 834.3,583.9 838.6,575.0 842.5,577.5 846.3,577.0 850.2,564.2 854.0,568.0 857.9,570.6 863.0,564.2 869.4,564.7 874.5,561.6 879.6,571.1 883.5,574.4 887.3,573.2 891.2,568.0 894.5,567.3 898.9,573.7 903.2,577.5 909.1,575.0 914.2,572.4 918.1,572.4 922.4,575.7 927.0,571.1 930.9,569.3 934.7,563.4 942.4,564.7 950.1,570.3 953.9,568.6 957.8,575.0 962.4,580.1 966.7,581.9 973.2,589.1 978.8,594.7 982.9,587.8 989.8,589.6 998.8,580.1 1002.1,580.9 1006.5,565.5 1010.3,567.8 1014.1,567.3 1018.8,575.5 1024.4,566.0 1030.0,557.0 1034.6,560.1 1041.1,560.4 1046.2,570.6 1050.0,564.7 1054.4,572.4 1058.5,570.3 1062.3,572.9 1066.7,569.3 1070.5,574.4 1074.4,571.6 1078.2,574.4 1083.3,571.1 1089.7,572.4 1094.3,580.6 1098.7,578.3 1106.4,581.4 1110.0,580.9 1113.8,579.3 1118.2,581.4 1122.3,576.2 1126.7,573.7 1134.3,576.2 1138.2,575.0 1143.3,571.1 1147.2,573.2 1150.5,576.2 1154.8,573.2 1162.5,574.2 1168.9,577.0 1174.1,578.8 1177.4,566.8 1181.7,566.0 1185.6,566.8 1190.7,571.1 1194.0,569.1 1198.4,577.0 1202.2,578.8 1206.8,577.0 1209.9,578.3" fill="none" stroke="#1e90ff" stroke-width="1"/>
<text x="10" y="544" font-size="10" fill="#000" stroke="#000" stroke-width="0.25" textLength="68" lengthAdjust="spacingAndGlyphs">RSI(14) 49.8448</text>
<text x="1525" y="543" font-size="10" fill="#000" stroke="#000" stroke-width="0.25" textLength="14.7" lengthAdjust="spacingAndGlyphs">100</text>
<text x="1525" y="563" font-size="10" fill="#000" stroke="#000" stroke-width="0.25" textLength="9.8" lengthAdjust="spacingAndGlyphs">70</text>
<text x="1525" y="599" font-size="10" fill="#000" stroke="#000" stroke-width="0.25" textLength="9.8" lengthAdjust="spacingAndGlyphs">30</text>
<text x="1525" y="620" font-size="10" fill="#000" stroke="#000" stroke-width="0.25" textLength="4.9" lengthAdjust="spacingAndGlyphs">0</text>
<path d="M10 631h1v52h-1zM14 640h1v43h-1zM18 642h1v41h-1zM22 643h1v40h-1zM26 644h1v39h-1zM30 646h1v37h-1zM34 649h1v34h-1zM38 651h1v32h-1zM42 652h1v31h-1zM46 654h1v29h-1zM50 654h1v29h-1zM54 655h1v28h-1zM58 656h1v27h-1zM62 658h1v25h-1zM66 660h1v23h-1zM70 662h1v21h-1zM74 663h1v20h-1zM78 664h1v19h-1zM82 665h1v18h-1zM86 668h1v15h-1zM90 671h1v12h-1zM94 677h1v6h-1zM98 680h1v3h-1zM102 682h1v1h-1zM106 683h1v1h-1zM110 683h1v2h-1zM114 683h1v3h-1zM118 683h1v4h-1zM122 683h1v5h-1zM126 683h1v5h-1zM130 683h1v5h-1zM134 683h1v5h-1zM138 683h1v5h-1zM142 683h1v5h-1zM146 683h1v4h-1zM150 683h1v3h-1zM154 683h1v3h-1zM158 683h1v2h-1zM162 683h1v2h-1zM166 683h1v2h-1zM170 683h1v2h-1zM174 683h1v2h-1zM178 683h1v2h-1zM182 683h1v2h-1zM186 683h1v2h-1zM190 683h1v1h-1zM194 683h1v1h-1zM198 683h1v1h-1zM202 683h1v1h-1zM206 683h1v1h-1zM210 683h1v1h-1zM214 683h1v1h-1zM218 683h1v1h-1zM222 683h1v1h-1zM226 683h1v1h-1zM230 683h1v1h-1zM234 683h1v1h-1zM238 682h1v1h-1zM242 676h1v7h-1zM246 670h1v13h-1zM250 658h1v25h-1zM254 651h1v32h-1zM258 645h1v38h-1zM262 642h1v41h-1zM266 636h1v47h-1zM270 633h1v50h-1zM274 632h1v51h-1zM278 636h1v47h-1zM282 639h1v44h-1zM286 642h1v41h-1zM290 643h1v40h-1zM294 645h1v38h-1zM298 647h1v36h-1zM302 647h1v36h-1zM306 648h1v35h-1zM310 648h1v35h-1zM314 644h1v39h-1zM318 643h1v40h-1zM322 639h1v44h-1zM326 637h1v46h-1zM330 636h1v47h-1zM334 637h1v46h-1zM338 637h1v46h-1zM342 638h1v45h-1zM346 637h1v46h-1zM350 639h1v44h-1zM354 641h1v42h-1zM358 644h1v39h-1zM362 650h1v33h-1zM366 655h1v28h-1zM370 658h1v25h-1zM374 661h1v22h-1zM378 664h1v19h-1zM382 670h1v13h-1zM386 677h1v6h-1zM390 682h1v1h-1zM394 682h1v1h-1zM398 682h1v1h-1zM402 682h1v1h-1zM406 682h1v1h-1zM410 682h1v1h-1zM414 682h1v1h-1zM418 680h1v3h-1zM422 679h1v4h-1zM426 677h1v6h-1zM430 675h1v8h-1zM434 674h1v9h-1zM438 672h1v11h-1zM442 671h1v12h-1zM446 670h1v13h-1zM450 669h1v14h-1zM454 670h1v13h-1zM458 672h1v11h-1zM462 676h1v7h-1zM466 675h1v8h-1zM470 673h1v10h-1zM474 673h1v10h-1zM478 676h1v7h-1zM482 680h1v3h-1zM486 683h1v1h-1zM490 683h1v2h-1zM494 683h1v3h-1zM498 683h1v4h-1zM502 683h1v5h-1zM506 683h1v6h-1zM510 683h1v7h-1zM514 683h1v8h-1zM518 683h1v8h-1zM522 683h1v9h-1zM526 683h1v9h-1zM530 683h1v10h-1zM534 683h1v10h-1zM538 683h1v10h-1zM542 683h1v11h-1zM546 683h1v11h-1zM550 683h1v12h-1zM554 683h1v12h-1zM558 683h1v13h-1zM562 683h1v14h-1zM566 683h1v16h-1zM570 683h1v18h-1zM574 683h1v20h-1zM578 683h1v21h-1zM582 683h1v23h-1zM586 683h1v22h-1zM590 683h1v21h-1zM594 683h1v19h-1zM598 683h1v18h-1zM602 683h1v15h-1zM606 683h1v14h-1zM610 683h1v12h-1zM614 683h1v10h-1zM618 683h1v8h-1zM622 683h1v6h-1zM626 683h1v4h-1zM630 683h1v3h-1zM634 683h1v3h-1zM638 683h1v3h-1zM642 683h1v3h-1zM646 683h1v2h-1zM650 683h1v2h-1zM654 683h1v1h-1zM658 683h1v1h-1zM662 681h1v2h-1zM666 680h1v3h-1zM670 680h1v3h-1zM674 681h1v2h-1zM678 682h1v1h-1zM682 682h1v1h-1zM686 683h1v1h-1zM690 683h1v1h-1zM694 683h1v3h-1zM698 683h1v4h-1zM702 683h1v5h-1zM706 683h1v6h-1zM710 683h1v8h-1zM714 683h1v7h-1zM718 683h1v7h-1zM722 683h1v7h-1zM726 683h1v8h-1zM730 683h1v7h-1zM734 683h1v7h-1zM738 683h1v7h-1zM742 683h1v7h-1zM746 683h1v7h-1zM750 683h1v8h-1zM754 683h1v9h-1zM758 683h1v9h-1zM762 683h1v11h-1zM766 683h1v11h-1zM770 683h1v12h-1zM774 683h1v13h-1zM778 683h1v12h-1zM782 683h1v13h-1zM786 683h1v14h-1zM790 683h1v15h-1zM794 683h1v18h-1zM798 683h1v19h-1zM802 683h1v21h-1zM806 683h1v24h-1zM810 683h1v25h-1zM814 683h1v26h-1zM818 683h1v27h-1zM822 683h1v29h-1zM826 683h1v29h-1zM830 683h1v25h-1zM834 683h1v22h-1zM838 683h1v19h-1zM842 683h1v15h-1zM846 683h1v12h-1zM850 683h1v6h-1zM854 683h1v1h-1zM858 681h1v2h-1zM862 679h1v4h-1zM866 676h1v7h-1zM870 673h1v10h-1zM874 671h1v12h-1zM878 669h1v14h-1zM882 670h1v13h-1zM886 670h1v13h-1zM890 670h1v13h-1zM894 668h1v15h-1zM898 670h1v13h-1zM902 672h1v11h-1zM906 673h1v10h-1zM910 673h1v10h-1zM914 673h1v10h-1zM918 674h1v9h-1zM922 674h1v9h-1zM926 673h1v10h-1zM930 672h1v11h-1zM934 670h1v13h-1zM938 668h1v15h-1zM942 666h1v17h-1zM946 666h1v17h-1zM950 667h1v16h-1zM954 667h1v16h-1zM958 668h1v15h-1zM962 671h1v12h-1zM966 674h1v9h-1zM970 678h1v5h-1zM974 682h1v1h-1zM978 683h1v4h-1zM982 683h1v6h-1zM986 683h1v9h-1zM990 683h1v10h-1zM994 683h1v10h-1zM998 683h1v9h-1zM1002 683h1v5h-1zM1006 683h1v2h-1zM1010 682h1v1h-1zM1014 678h1v5h-1zM1018 678h1v5h-1zM1022 676h1v7h-1zM1026 670h1v13h-1zM1030 661h1v22h-1zM1034 655h1v28h-1zM1038 651h1v32h-1zM1042 648h1v35h-1zM1046 648h1v35h-1zM1050 648h1v35h-1zM1054 649h1v34h-1zM1058 651h1v32h-1zM1062 651h1v32h-1zM1066 653h1v30h-1zM1070 655h1v28h-1zM1074 656h1v27h-1zM1078 658h1v25h-1zM1082 658h1v25h-1zM1086 659h1v24h-1zM1090 660h1v23h-1zM1094 665h1v18h-1zM1098 668h1v15h-1zM1102 672h1v11h-1zM1106 675h1v8h-1zM1110 679h1v4h-1zM1114 679h1v4h-1zM1118 681h1v2h-1zM1122 682h1v1h-1zM1126 681h1v2h-1zM1130 679h1v4h-1zM1134 679h1v4h-1zM1138 678h1v5h-1zM1142 677h1v6h-1zM1146 677h1v6h-1zM1150 677h1v6h-1zM1154 676h1v7h-1zM1158 676h1v7h-1zM1162 676h1v7h-1zM1166 676h1v7h-1zM1170 676h1v7h-1zM1174 676h1v7h-1zM1178 674h1v9h-1zM1182 672h1v11h-1zM1186 672h1v11h-1zM1190 671h1v12h-1zM1194 671h1v12h-1zM1198 672h1v11h-1zM1202 674h1v9h-1zM1206 675h1v8h-1zM1210 676h1v7h-1z" fill="#c0c0c0"/>
<polyline points="6.4,633.9 10.2,631.3 25.6,637.7 38.4,643.4 51.2,649.3 64.1,653.1 76.9,656.9 92.2,663.4 102.5,669.8 115.3,678.2 128.1,685.1 146.0,687.7 166.5,685.9 192.2,685.1 217.8,684.4 243.4,682.6 256.2,671.0 269.0,655.7 279.3,642.9 284.4,638.5 294.6,637.0 304.9,640.3 315.1,644.1 325.4,644.1 335.6,640.8 345.9,637.7 356.1,637.2 366.4,639.8 372.6,644.7 380.2,650.5 390.5,662.1 400.7,672.3 408.4,677.4 416.1,680.8 425.1,681.3 436.6,678.0 446.9,674.1 457.1,671.8 467.4,671.6 478.9,671.8 487.9,674.9 498.1,679.5 508.4,683.1 518.6,687.2 528.9,690.8 539.1,692.8 549.3,693.3 559.6,694.6 569.8,696.2 580.1,700.0 590.3,701.8 600.6,703.1 610.8,701.3 621.1,697.9 631.3,693.3 641.6,689.7 649.3,687.2 657.0,686.9 664.6,684.6 674.9,683.1 685.1,681.3 695.4,681.3 703.1,683.9 713.3,686.4 723.6,688.5 733.8,690.3 742.6,690.3 755.4,690.8 765.6,692.8 778.4,693.3 791.2,696.7 804.1,700.0 816.9,705.1 827.1,708.7 836.1,709.5 845.0,706.1 855.3,700.5 865.5,691.5 875.8,681.3 886.0,673.6 896.3,670.5 906.5,669.2 919.3,670.5 929.6,671.6 942.4,670.3 955.2,668.5 965.5,667.2 971.9,668.5 980.8,674.4 991.1,682.6 1001.3,689.0 1011.6,688.5 1021.8,685.6 1032.1,678.2 1042.3,665.4 1052.6,656.9 1062.8,651.1 1070.5,650.5 1080.8,652.3 1091.0,655.7 1101.3,660.8 1111.5,665.9 1116.4,668.5 1122.8,673.6 1130.5,676.7 1138.2,678.2 1148.4,678.0 1161.2,676.7 1174.1,676.2 1181.7,674.9 1192.0,673.1 1199.7,672.8 1206.8,672.3" fill="none" stroke="#ff0000" stroke-width="1" stroke-dasharray="3 3"/>
<text x="10" y="638" font-size="10" fill="#000" stroke="#000" stroke-width="0.25" textLength="148" lengthAdjust="spacingAndGlyphs">MACD(12,26,9) 0.006790 0.010733</text>
<rect x="1522" y="682" width="2" height="1" fill="#000"/>
<text x="1525.4" y="636" font-size="10" fill="#000" stroke="#000" stroke-width="0.25" textLength="37.3" lengthAdjust="spacingAndGlyphs">0.061119</text>
<text x="1525.4" y="686" font-size="10" fill="#000" stroke="#000" stroke-width="0.25" textLength="17.4" lengthAdjust="spacingAndGlyphs">0.00</text>
<text x="1525.4" y="714" font-size="10" fill="#000" stroke="#000" stroke-width="0.25" textLength="41" lengthAdjust="spacingAndGlyphs">-0.038777</text>
<rect x="6" y="718" width="1" height="3" fill="#000"/>
<text x="5" y="730" font-size="10" fill="#000" stroke="#000" stroke-width="0.25" textLength="54.5" lengthAdjust="spacingAndGlyphs">25 May 2019</text>
<rect x="70" y="718" width="1" height="3" fill="#000"/>
<text x="69" y="730" font-size="10" fill="#000" stroke="#000" stroke-width="0.25" textLength="49.5" lengthAdjust="spacingAndGlyphs">13 Jun 2019</text>
<rect x="134" y="718" width="1" height="3" fill="#000"/>
<text x="133" y="730" font-size="10" fill="#000" stroke="#000" stroke-width="0.25" textLength="41.5" lengthAdjust="spacingAndGlyphs">2 Jul 2019</text>
<rect x="198" y="718" width="1" height="3" fill="#000"/>
<text x="197" y="730" font-size="10" fill="#000" stroke="#000" stroke-width="0.25" textLength="47" lengthAdjust="spacingAndGlyphs">20 Jul 2019</text>
<rect x="262" y="718" width="1" height="3" fill="#000"/>
<text x="261" y="730" font-size="10" fill="#000" stroke="#000" stroke-width="0.25" textLength="48" lengthAdjust="spacingAndGlyphs">8 Aug 2019</text>
<rect x="326" y="718" width="1" height="3" fill="#000"/>
<text x="325" y="730" font-size="10" fill="#000" stroke="#000" stroke-width="0.25" textLength="52" lengthAdjust="spacingAndGlyphs">27 Aug 2019</text>
<rect x="390" y="718" width="1" height="3" fill="#000"/>
<text x="389" y="730" font-size="10" fill="#000" stroke="#000" stroke-width="0.25" textLength="51.5" lengthAdjust="spacingAndGlyphs">14 Sep 2019</text>
<rect x="454" y="718" width="1" height="3" fill="#000"/>
<text x="453" y="730" font-size="10" fill="#000" stroke="#000" stroke-width="0.25" textLength="46" lengthAdjust="spacingAndGlyphs">3 Oct 2019</text>
<rect x="518" y="718" width="1" height="3" fill="#000"/>
<text x="517" y="730" font-size="10" fill="#000" stroke="#000" stroke-width="0.25" textLength="51" lengthAdjust="spacingAndGlyphs">22 Oct 2019</text>
<rect x="582" y="718" width="1" height="3" fill="#000"/>
<text x="581" y="730" font-size="10" fill="#000" stroke="#000" stroke-width="0.25" textLength="48.2" lengthAdjust="spacingAndGlyphs">9 Nov 2019</text>
<rect x="646" y="718" width="1" height="3" fill="#000"/>
<text x="645" y="730" font-size="10" fill="#000" stroke="#000" stroke-width="0.25" textLength="53.5" lengthAdjust="spacingAndGlyphs">28 Nov 2019</text>
<rect x="710" y="718" width="1" height="3" fill="#000"/>
<text x="709" y="730" font-size="10" fill="#000" stroke="#000" stroke-width="0.25" textLength="51.5" lengthAdjust="spacingAndGlyphs">17 Dec 2019</text>
<rect x="774" y="718" width="1" height="3" fill="#000"/>
<text x="773" y="730" font-size="10" fill="#000" stroke="#000" stroke-width="0.25" textLength="45" lengthAdjust="spacingAndGlyphs">4 Jan 2020</text>
<rect x="838" y="718" width="1" height="3" fill="#000"/>
<text x="837" y="730" font-size="10" fill="#000" stroke="#000" stroke-width="0.25" textLength="49.2" lengthAdjust="spacingAndGlyphs">23 Jan 2020</text>
<rect x="902" y="718" width="1" height="3" fill="#000"/>
<text x="901" y="730" font-size="10" fill="#000" stroke="#000" stroke-width="0.25" textLength="51.2" lengthAdjust="spacingAndGlyphs">11 Feb 2020</text>
<rect x="966" y="718" width="1" height="3" fill="#000"/>
<text x="965" y="730" font-size="10" fill="#000" stroke="#000" stroke-width="0.25" textLength="51" lengthAdjust="spacingAndGlyphs">29 Feb 2020</text>
<rect x="1030" y="718" width="1" height="3" fill="#000"/>
<text x="1029" y="730" font-size="10" fill="#000" stroke="#000" stroke-width="0.25" textLength="51" lengthAdjust="spacingAndGlyphs">19 Mar 2020</text>
<rect x="1094" y="718" width="1" height="3" fill="#000"/>
<text x="1093" y="730" font-size="10" fill="#000" stroke="#000" stroke-width="0.25" textLength="45.8" lengthAdjust="spacingAndGlyphs">7 Apr 2020</text>
<rect x="1158" y="718" width="1" height="3" fill="#000"/>
<text x="1157" y="730" font-size="10" fill="#000" stroke="#000" stroke-width="0.25" textLength="50.5" lengthAdjust="spacingAndGlyphs">25 Apr 2020</text>
<rect x="0" y="738" width="1564" height="1" fill="#e3e3e3"/>
<rect x="3" y="742" width="1561" height="18" fill="#f0f0f0"/>
<rect x="1" y="740" width="1563" height="1" fill="#000"/>
<rect x="1" y="741" width="1" height="18" fill="#a0a0a0"/>
<rect x="2" y="741" width="1" height="19" fill="#696969"/>
<rect x="420" y="740" width="102" height="18" fill="#fff"/>
<rect x="419" y="740" width="1" height="19" fill="#000"/>
<rect x="522" y="740" width="1" height="19" fill="#000"/>
<rect x="419" y="758" width="104" height="1" fill="#000"/>
<text x="19.5" y="755" font-size="12" fill="#606060" textLength="79.5" lengthAdjust="spacingAndGlyphs">EURUSD,Daily</text>
<text x="121.6" y="755" font-size="12" fill="#606060" textLength="78.4" lengthAdjust="spacingAndGlyphs">USDCHF,Daily</text>
<text x="222" y="755" font-size="12" fill="#606060" textLength="82" lengthAdjust="spacingAndGlyphs">AUDUSD,Daily</text>
<text x="326.5" y="755" font-size="12" fill="#606060" textLength="80.5" lengthAdjust="spacingAndGlyphs">USDCAD,Daily</text>
<text x="535" y="755" font-size="12" fill="#606060" textLength="80.4" lengthAdjust="spacingAndGlyphs">EURUSD,Daily</text>
<text x="639" y="755" font-size="12" fill="#606060" textLength="68" lengthAdjust="spacingAndGlyphs">GBPUSD,H4</text>
<text x="730" y="755" font-size="12" fill="#606060" textLength="69" lengthAdjust="spacingAndGlyphs">XAUUSD,H4</text>
<text x="821.8" y="755" font-size="12" fill="#606060" textLength="49.9" lengthAdjust="spacingAndGlyphs">HK50,H1</text>
<text x="894" y="755" font-size="12" fill="#606060" textLength="56.5" lengthAdjust="spacingAndGlyphs">UK100,H1</text>
<text x="973.7" y="755" font-size="12" fill="#606060" textLength="56.9" lengthAdjust="spacingAndGlyphs">UK100,H1</text>
<text x="1054" y="755" font-size="12" fill="#606060" textLength="57" lengthAdjust="spacingAndGlyphs">GER30,H1</text>
<text x="1133.4" y="755" font-size="12" fill="#606060" textLength="54.1" lengthAdjust="spacingAndGlyphs">FRA40,H1</text>
<text x="1209" y="755" font-size="12" fill="#606060" textLength="50.6" lengthAdjust="spacingAndGlyphs">USOil,H1</text>
<text x="1281.3" y="755" font-size="12" fill="#606060" textLength="62.4" lengthAdjust="spacingAndGlyphs">USDJPY,H1</text>
<text x="429.5" y="755" font-size="12" fill="#000" textLength="82.5" lengthAdjust="spacingAndGlyphs">USDCNH,Daily</text>
<rect x="111" y="743" width="1" height="14" fill="#5a5a5a"/>
<rect x="211" y="743" width="1" height="14" fill="#5a5a5a"/>
<rect x="315" y="743" width="1" height="14" fill="#5a5a5a"/>
<rect x="627" y="743" width="1" height="14" fill="#5a5a5a"/>
<rect x="719" y="743" width="1" height="14" fill="#5a5a5a"/>
<rect x="811" y="743" width="1" height="14" fill="#5a5a5a"/>
<rect x="883" y="743" width="1" height="14" fill="#5a5a5a"/>
<rect x="963" y="743" width="1" height="14" fill="#5a5a5a"/>
<rect x="1043" y="743" width="1" height="14" fill="#5a5a5a"/>
<rect x="1123" y="743" width="1" height="14" fill="#5a5a5a"/>
<rect x="1199" y="743" width="1" height="14" fill="#5a5a5a"/>
<rect x="1271" y="743" width="1" height="14" fill="#5a5a5a"/>
<rect x="1356" y="743" width="1" height="14" fill="#5a5a5a"/>
<path d="M1540.5 745.5v7l-3.8-3.5z M1555.7 745.5v7l3.8-3.5z" fill="#8c8c8c" shape-rendering="auto"/>
</svg>
</body></html>
